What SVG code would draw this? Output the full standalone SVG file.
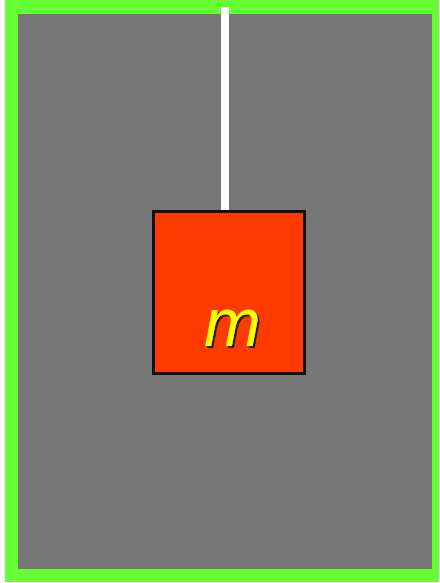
<svg xmlns="http://www.w3.org/2000/svg" width="440" height="583" viewBox="0 0 440 583">
<defs>
<filter id="shadow" x="-20%" y="-20%" width="140%" height="140%">
<feDropShadow dx="2" dy="2" stdDeviation="0.6" flood-color="#222200" flood-opacity="1"/>
</filter>
</defs>
<style>
.lbl{font-family:"Liberation Sans",Arial,sans-serif;font-style:italic;font-size:68px;fill:#ffff00;filter:url(#shadow);}
</style>
<rect x="0" y="0" width="440" height="583" fill="#ffffff"/>
<rect x="5" y="0" width="434" height="582" fill="#66ff33"/>
<rect x="18" y="14" width="414" height="555" fill="#767676"/>
<g id="connectors">
<rect x="221" y="7" width="8" height="206" fill="#ffffff"/>
</g>
<g id="mass">
<rect x="153.5" y="211.5" width="151" height="162" fill="#ff3a00" stroke="#111111" stroke-width="3"/>
<text class="lbl" x="204" y="346">m</text>
</g>
</svg>
